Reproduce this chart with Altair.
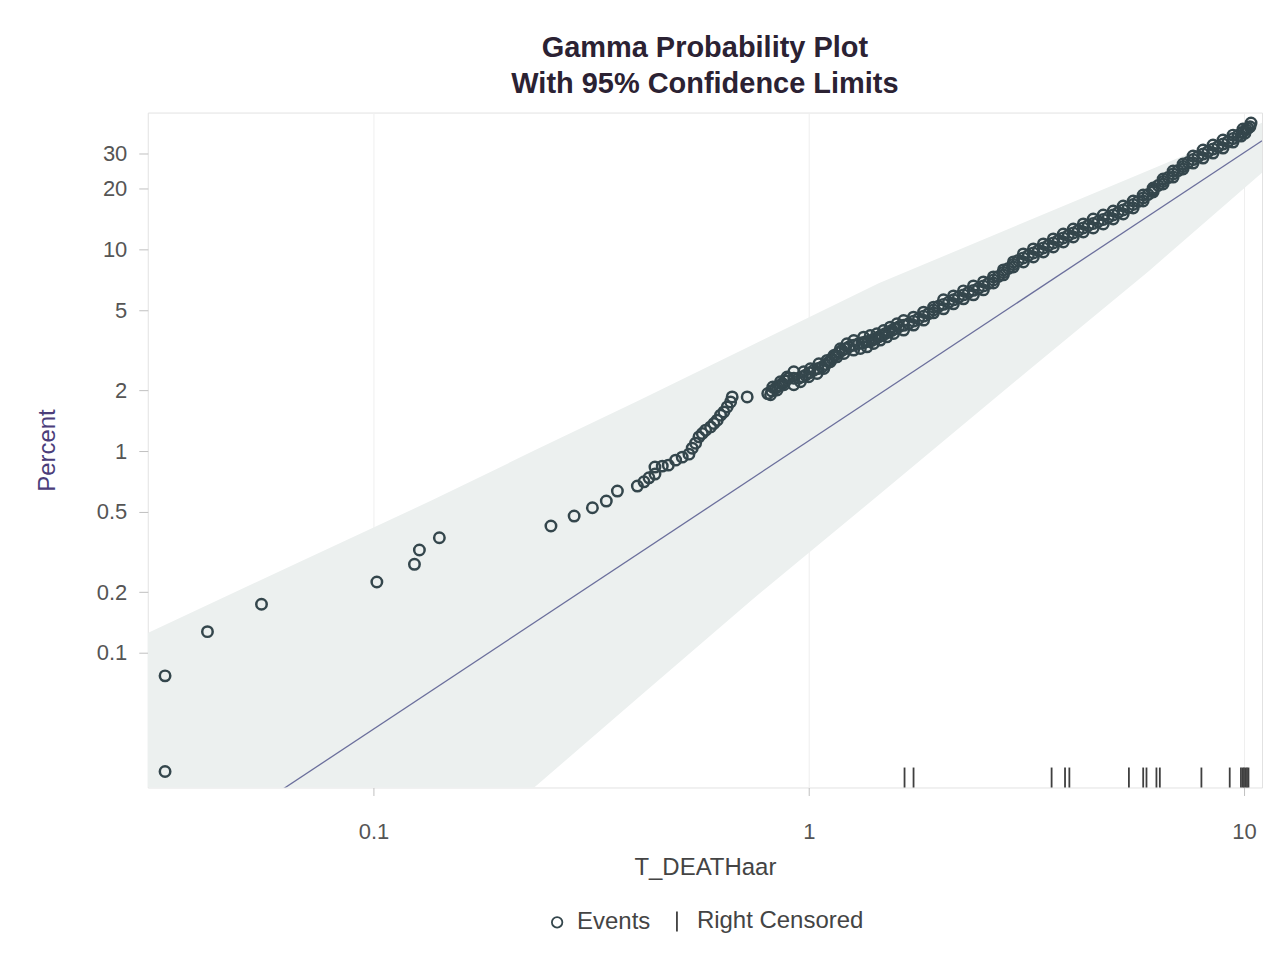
import altair as alt
import pandas as pd

FONT = "Liberation Sans"
W, H = 1116, 676

# ---- data ----
# isolated event points (T_DEATHaar, Percent)
sparse_x = [0.0332, 0.0332, 0.04155, 0.0553, 0.1018, 0.1242, 0.1275, 0.1417, 0.2557, 0.2891,
            0.3184, 0.3427, 0.3634, 0.4039, 0.4183, 0.4295, 0.4433, 0.4433, 0.4608, 0.4757,
            0.4946, 0.5121, 0.5306, 0.5399, 0.5497, 0.5595, 0.5694, 0.5797, 0.5950, 0.6055,
            0.6162, 0.6273, 0.6383, 0.6496, 0.6614, 0.6670, 0.7221]
sparse_y = [0.0769, 0.0258, 0.1274, 0.1742, 0.2246, 0.2748, 0.3236, 0.3722, 0.4253, 0.4767,
            0.524, 0.5655, 0.6339, 0.6711, 0.7047, 0.7376, 0.7694, 0.8334, 0.8427, 0.8524,
            0.9025, 0.9339, 0.9664, 1.0348, 1.0954, 1.177, 1.2233, 1.2705, 1.319, 1.371,
            1.4237, 1.5074, 1.5653, 1.6571, 1.7541, 1.8571, 1.8571]

# dense event cloud: centre of the band
dense_x = [0.805, 0.839, 0.869, 0.900, 0.949, 0.983, 1.027, 1.073, 1.112, 1.151,
           1.192, 1.236, 1.302, 1.349, 1.397, 1.447, 1.499, 1.553, 1.609, 1.696,
           1.788, 1.885, 1.987, 2.095, 2.208, 2.328, 2.454, 2.587, 2.728, 2.876,
           3.031, 3.196, 3.370, 3.552, 3.745, 3.948, 4.162, 4.387, 4.625, 4.877,
           5.140, 5.420, 5.713, 6.023, 6.350, 6.694, 7.057, 7.439, 7.845, 8.268,
           8.717, 9.190, 9.688, 10.11, 10.32]
dense_y = [1.930, 2.050, 2.163, 2.298, 2.298, 2.378, 2.518, 2.615, 2.767, 2.987,
           3.162, 3.283, 3.413, 3.475, 3.543, 3.680, 3.825, 3.972, 4.124, 4.288,
           4.539, 4.805, 5.222, 5.466, 5.787, 6.126, 6.412, 6.786, 7.350, 8.054,
           8.822, 9.339, 9.886, 10.47, 11.08, 11.73, 12.42, 13.15, 13.76, 14.40,
           15.25, 16.14, 17.29, 18.72, 20.74, 22.72, 24.61, 26.96, 28.87, 30.56,
           32.35, 34.25, 36.68, 39.27, 40.6]

# dense event cloud: points read between the centre readings
mid_x = [0.822, 0.854, 0.884, 0.924, 0.966, 1.005, 1.050, 1.092, 1.131, 1.171,
         1.214, 1.269, 1.325, 1.373, 1.422, 1.473, 1.526, 1.581, 1.652, 1.741,
         1.836, 1.935, 2.040, 2.151, 2.267, 2.390, 2.520, 2.657, 2.801, 2.953,
         3.112, 3.282, 3.460, 3.647, 3.845, 4.054, 4.273, 4.504, 4.749, 5.007,
         5.278, 5.564, 5.866, 6.184, 6.520, 6.873, 7.246, 7.639, 8.054, 8.490,
         8.951, 9.436, 9.897, 10.21]
mid_y = [1.989, 2.106, 2.229, 2.298, 2.338, 2.447, 2.566, 2.690, 2.875, 3.073,
         3.222, 3.347, 3.444, 3.509, 3.611, 3.752, 3.898, 4.047, 4.205, 4.412,
         4.670, 5.009, 5.342, 5.624, 5.954, 6.267, 6.596, 7.062, 7.694, 8.429,
         9.077, 9.609, 10.17, 10.77, 11.40, 12.07, 12.78, 13.45, 14.08, 14.82,
         15.69, 16.71, 17.99, 19.70, 21.71, 23.65, 25.76, 27.90, 29.70, 31.44,
         33.29, 35.45, 37.95, 39.93]

# dense event cloud: upper edge
upper_x = [0.827, 0.861, 0.892, 0.924, 0.974, 1.009, 1.055, 1.102, 1.142, 1.182,
           1.224, 1.269, 1.337, 1.385, 1.434, 1.486, 1.539, 1.595, 1.652, 1.741,
           1.836, 1.936, 2.040, 2.151, 2.267, 2.390, 2.520, 2.656, 2.801, 2.953,
           3.112, 3.282, 3.460, 3.647, 3.845, 4.054, 4.274, 4.505, 4.749, 5.008,
           5.278, 5.565, 5.866, 6.184, 6.520, 6.873, 7.246, 7.638, 8.055, 8.490,
           8.950, 9.436, 9.948, 10.38]
upper_y = [2.078, 2.208, 2.329, 2.475, 2.475, 2.561, 2.712, 2.816, 2.980, 3.217,
           3.405, 3.535, 3.675, 3.742, 3.816, 3.963, 4.119, 4.277, 4.441, 4.618,
           4.888, 5.175, 5.624, 5.886, 6.232, 6.597, 6.905, 7.308, 7.915, 8.673,
           9.500, 10.06, 10.65, 11.28, 11.93, 12.63, 13.38, 14.16, 14.82, 15.51,
           16.42, 17.38, 18.62, 20.16, 22.33, 24.47, 26.50, 29.03, 31.09, 32.91,
           34.84, 36.88, 39.50, 42.3]

# dense event cloud: lower edge
lower_x = [0.817, 0.846, 0.877, 0.924, 0.957, 1.000, 1.045, 1.083, 1.121,
           1.161, 1.204, 1.268, 1.314, 1.361, 1.409, 1.460, 1.512, 1.567, 1.652,
           1.741, 1.836, 1.935, 2.040, 2.150, 2.267, 2.390, 2.519, 2.657, 2.801,
           2.952, 3.113, 3.282, 3.459, 3.647, 3.845, 4.053, 4.273, 4.504, 4.750,
           5.006, 5.279, 5.564, 5.866, 6.184, 6.519, 6.873, 7.245, 7.640, 8.052,
           8.489, 8.950, 9.435, 9.846, 10.05]
lower_y = [1.904, 2.009, 2.134, 2.134, 2.208, 2.338, 2.428, 2.569, 2.774,
           2.936, 3.049, 3.169, 3.227, 3.290, 3.417, 3.552, 3.688, 3.830, 3.982,
           4.215, 4.462, 4.849, 5.076, 5.374, 5.689, 5.954, 6.302, 6.825, 7.479,
           8.192, 8.672, 9.180, 9.722, 10.29, 10.89, 11.53, 12.21, 12.78, 13.37,
           14.16, 14.99, 16.06, 17.38, 19.26, 21.10, 22.85, 25.04, 26.81, 28.38,
           30.04, 31.80, 34.06, 36.47, 37.70]

# right-censored observations
cens_x = [1.660, 1.741, 3.614, 3.88, 3.97, 5.440, 5.867, 5.970, 6.293, 6.407,
          7.983, 9.273, 9.84, 9.93, 10.0, 10.08, 10.16, 10.24]

# 95% confidence band and fitted line
band_x = [0.0303, 0.0676, 0.1366, 0.234, 0.408, 0.740, 1.448, 3.20, 6.03, 11.0]
band_lo = [0.00046, 0.0021, 0.0078, 0.0215, 0.0605, 0.183, 0.606, 2.52, 7.78, 24.0]
band_hi = [0.1256, 0.282, 0.572, 1.006, 1.789, 3.35, 6.79, 13.92, 24.6, 42.5]
fit_x = [0.0303, 11.0]
fit_y = [0.0076, 34.6]

y_ticks = [0.1, 0.2, 0.5, 1, 2, 5, 10, 20, 30]
x_ticks = [0.1, 1, 10]
type_dom = ["Events", "Right Censored"]

# ---- tables ----
ev = pd.DataFrame({
    "x": sparse_x + dense_x + mid_x + upper_x + lower_x,
    "y": sparse_y + dense_y + mid_y + upper_y + lower_y,
})
ev["type"] = "Events"
ce = pd.DataFrame({"x": cens_x})
ce["type"] = "Right Censored"
band = pd.DataFrame({"x": band_x, "lo": band_lo, "hi": band_hi})
fit = pd.DataFrame({"x": fit_x, "y": fit_y})

xscale = alt.Scale(type="log", domain=[0.0303, 11.0], nice=False)
yscale = alt.Scale(type="log", domain=[0.0215, 47.7], nice=False)

x_axis = alt.Axis(values=x_ticks, format="~g", title="T_DEATHaar", grid=True,
                  gridColor="#efefef", domain=False, tickSize=8, tickColor="#c0c0c0",
                  labelFont=FONT, labelFontSize=22, labelColor="#555555",
                  labelPadding=36, labelBaseline="middle",
                  titleFont=FONT, titleFontSize=24, titleFontWeight="normal",
                  titleColor="#444444", titleX=558, titleY=80,
                  titleBaseline="middle", titleAlign="center")
y_axis = alt.Axis(values=y_ticks, format="~g", title="Percent", grid=False,
                  domain=False, tickSize=9, tickColor="#c0c0c0",
                  labelFont=FONT, labelFontSize=22, labelColor="#555555",
                  labelPadding=12,
                  titleFont=FONT, titleFontSize=24, titleFontWeight="normal",
                  titleColor="#4b3d7a", titleX=-100, titleY=338, titleAngle=270,
                  titleBaseline="middle", titleAlign="center")

legend = alt.Legend(title=None, orient="none", legendX=398, legendY=798,
                    direction="horizontal", labelFont=FONT, labelFontSize=24,
                    labelColor="#444444", labelOffset=8, columnPadding=14,
                    labelLimit=400, symbolStrokeWidth=1.8, padding=0)
color = alt.Color("type:N", scale=alt.Scale(domain=type_dom, range=["#34464c", "#3f3f3f"]),
                  legend=legend)
shape = alt.Shape("type:N", scale=alt.Scale(domain=type_dom, range=["circle", "M0,-1L0,1"]),
                  legend=legend)
size = alt.Size("type:N", scale=alt.Scale(domain=type_dom, range=[110, 400]), legend=legend)

band_layer = alt.Chart(band).mark_area(color="#ecf0ef", clip=True).encode(
    x=alt.X("x:Q", scale=xscale, axis=x_axis),
    y=alt.Y("hi:Q", scale=yscale, axis=y_axis),
    y2="lo:Q",
)
fit_layer = alt.Chart(fit).mark_line(color="#6b6f9c", strokeWidth=1.3, clip=True).encode(
    x=alt.X("x:Q", scale=xscale),
    y=alt.Y("y:Q", scale=yscale),
)
cens_layer = alt.Chart(ce).mark_point(filled=False, strokeWidth=1.8, opacity=1).encode(
    x=alt.X("x:Q", scale=xscale),
    y=alt.value(H - 10),
    color=color, shape=shape, size=size,
)
ev_layer = alt.Chart(ev).mark_point(filled=False, strokeWidth=2.5, opacity=1).encode(
    x=alt.X("x:Q", scale=xscale),
    y=alt.Y("y:Q", scale=yscale),
    color=color, shape=shape, size=size,
)

chart = alt.layer(band_layer, fit_layer, cens_layer, ev_layer).properties(
    width=W, height=H,
    padding={"left": 28, "top": 25, "right": 5, "bottom": 5},
    title=alt.TitleParams(text=["Gamma Probability Plot", "With 95% Confidence Limits"],
                          font=FONT, fontSize=29, fontWeight="bold", color="#2b2233",
                          lineHeight=36, offset=14, anchor="middle", frame="group"),
).configure_view(stroke="#e2e2e2", strokeWidth=1)

chart.save("out.html", embed_options={"renderer": "svg", "actions": False})
